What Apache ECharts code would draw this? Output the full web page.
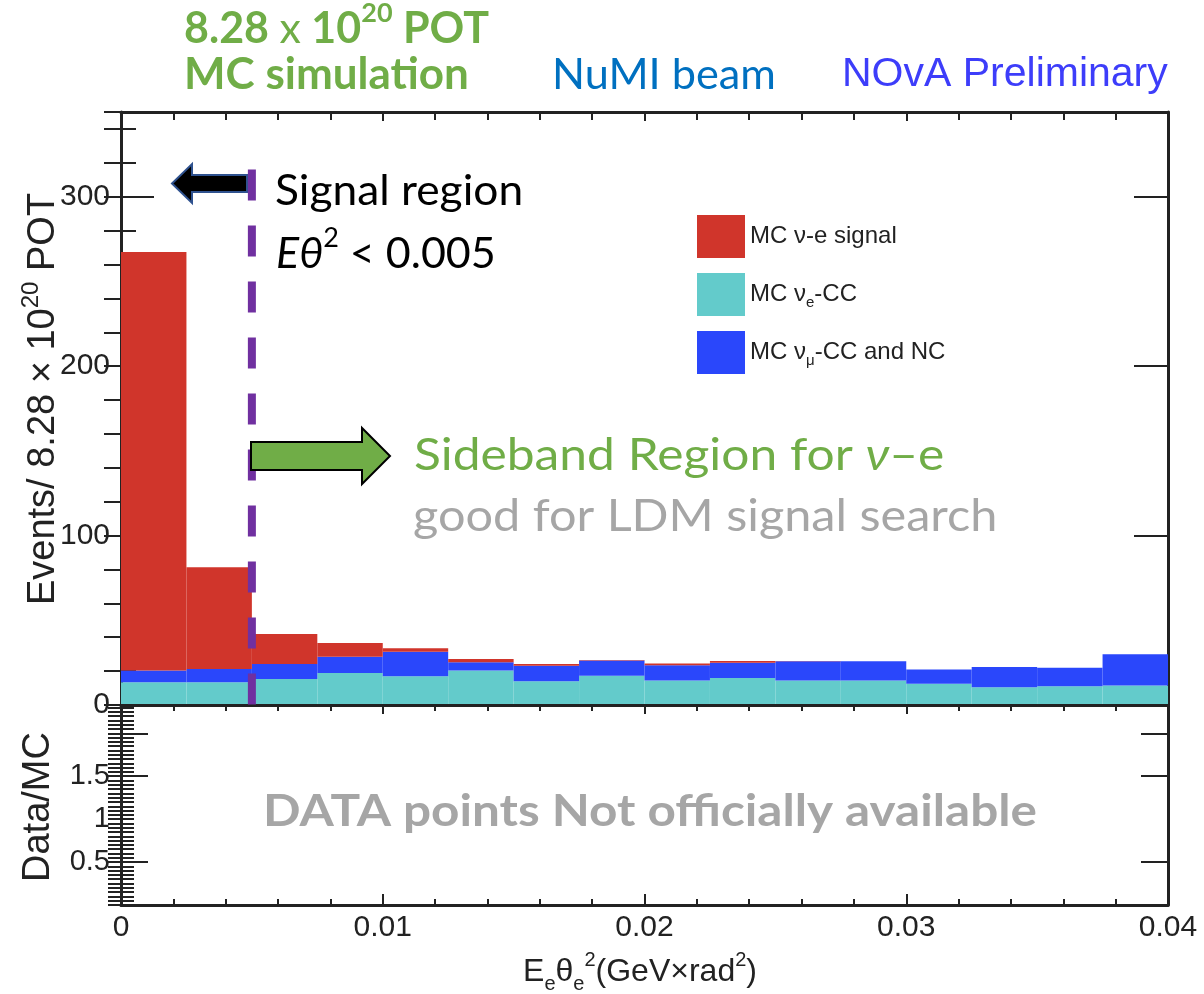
<!DOCTYPE html>
<html>
<head>
<meta charset="utf-8">
<title>NOvA E theta^2 sideband</title>
<script src="https://cdn.jsdelivr.net/npm/echarts@6/dist/echarts.min.js"></script>
<style>
  html, body { margin: 0; padding: 0; background: #fff; }
  #chart { width: 1204px; height: 994px; }
</style>
</head>
<body>
<div id="chart"></div>
<script>
// bin edges in E_e theta_e^2 (GeV x rad^2)
var binEdges = [0, 0.0025, 0.005, 0.0075, 0.01, 0.0125, 0.015, 0.0175, 0.02,
                0.0225, 0.025, 0.0275, 0.03, 0.0325, 0.035, 0.0375, 0.04];
// events per bin (bottom -> top)
var nueCC    = [13.4, 13.4, 15.4, 18.9, 16.9, 20.3, 14.0, 17.3, 14.5, 15.9, 14.5, 14.5, 12.5, 10.5, 11.1, 11.5];
var numuCCNC = [6.9, 7.9, 8.8, 9.6, 14.6, 4.9, 9.2, 8.9, 9.0, 9.1, 11.3, 11.3, 8.5, 12.0, 10.9, 18.5];
var nueSignal = [247, 60, 17.7, 8.1, 2.0, 2.0, 1.0, 0.3, 1.0, 1.0, 0.2, 0, 0, 0, 0, 0];

// signal region cut and the top of the dashed cut line
var signalCut = 0.005;
var cutLineTop = 316;

// tick labels that are printed, and the long ticks of the ratio pad
var yLabelsEvents = [0, 100, 200, 300];
var yLabelsRatio = [0.5, 1, 1.5];
var yLongTicksRatio = [0.5, 1.5, 2];

var AXIS = '#222';
var FONT = '"Liberation Sans", Arial, sans-serif';
var TEXT_FONT = 'Lato, "Open Sans", sans-serif';

// [lo, hi, base, top] rows for one layer of the stack
function stackRows(layer, below) {
  return layer.map(function (v, i) {
    var base = 0;
    below.forEach(function (b) { base += b[i]; });
    return [binEdges[i], binEdges[i + 1], base, base + v];
  });
}

function renderBin(params, api) {
  var y0 = api.value(2), y1 = api.value(3);
  if (y1 - y0 <= 0) return null;
  var p0 = api.coord([api.value(0), y1]);
  var p1 = api.coord([api.value(1), y0]);
  return {
    type: 'rect',
    shape: { x: p0[0], y: p0[1], width: p1[0] - p0[0], height: p1[1] - p0[1] },
    style: { fill: api.visual('color') }
  };
}

function histSeries(name, color, rows) {
  return {
    name: name,
    type: 'custom',
    xAxisIndex: 0,
    yAxisIndex: 0,
    renderItem: renderBin,
    clip: true,
    itemStyle: { color: color },
    encode: { x: [0, 1], y: [2, 3] },
    data: rows,
    silent: true
  };
}

function onlyLabels(list) {
  return function (v) {
    for (var i = 0; i < list.length; i++) {
      if (Math.abs(list[i] - v) < 1e-9) return String(list[i]);
    }
    return '';
  };
}

function xAxisOf(grid, pos, opt) {
  return Object.assign({
    type: 'value', gridIndex: grid, position: pos,
    min: 0, max: 0.04, interval: 0.01,
    axisLine: { show: true, onZero: false, lineStyle: { color: AXIS, width: 3 } },
    axisTick: { show: true, inside: true, length: 9, lineStyle: { color: AXIS, width: 2 } },
    minorTick: { show: true, splitNumber: 5, length: 6, lineStyle: { color: AXIS, width: 2 } },
    axisLabel: { show: false },
    splitLine: { show: false }
  }, opt || {});
}

function yAxisOf(grid, pos, max, interval, tickLen, opt) {
  return Object.assign({
    type: 'value', gridIndex: grid, position: pos,
    min: 0, max: max, interval: interval,
    axisLine: { show: true, onZero: false, lineStyle: { color: AXIS, width: 3 } },
    axisTick: { show: true, inside: true, length: tickLen, lineStyle: { color: AXIS, width: 2 } },
    axisLabel: { show: false },
    splitLine: { show: false }
  }, opt || {});
}

var chart = echarts.init(document.getElementById('chart'), null, { renderer: 'canvas' });

var legendText = {
  'MC ν-e signal': '{t|MC ν-e signal}',
  'MC νe-CC': '{t|MC ν}{s|e}{t|-CC}',
  'MC νμ-CC and NC': '{t|MC ν}{s|μ}{t|-CC and NC}'
};

function txt(text, x, y, size, color, extra, sx) {
  return {
    type: 'text', x: x, y: y, z: 100, scaleX: sx || 1,
    style: Object.assign({
      text: text, fontFamily: TEXT_FONT, fontSize: size, fill: color,
      verticalAlign: 'middle', align: 'left'
    }, extra || {})
  };
}

function richTok(size, color, weight, style, va) {
  return { fontFamily: TEXT_FONT, fontSize: size, fill: color, fontWeight: weight || 'normal',
           fontStyle: style || 'normal', verticalAlign: va || 'middle', lineHeight: va ? size : 58 };
}

var GREEN = '#70ad47';
var ratioTicks = { show: true, inside: true, length: 27, customValues: yLongTicksRatio,
                   lineStyle: { color: AXIS, width: 2 } };

var option = {
  backgroundColor: '#fff',
  animation: false,
  grid: [
    { left: 121, right: 36, top: 112, height: 593, containLabel: false, outerBoundsMode: 'none' },
    { left: 121, right: 36, top: 705, height: 200, containLabel: false, outerBoundsMode: 'none' }
  ],
  xAxis: [
    xAxisOf(0, 'bottom', { axisTick: { show: false }, minorTick: { show: false }, z: 5 }),
    xAxisOf(0, 'top', { axisTick: { show: true, inside: true, length: 9, lineStyle: { color: AXIS, width: 2 } },
                        minorTick: { show: true, splitNumber: 5, length: 8, lineStyle: { color: AXIS, width: 2 } } }),
    xAxisOf(1, 'top'),
    xAxisOf(1, 'bottom', {
      axisTick: { show: true, inside: true, length: 11, lineStyle: { color: AXIS, width: 2 } },
      axisLabel: { show: true, margin: 8, fontFamily: FONT, fontSize: 30, color: '#222',
                   formatter: function (v) { return String(v); } }
    })
  ],
  yAxis: [
    yAxisOf(0, 'left', 350, 100, 33, {
      axisLabel: { show: true, margin: 11, fontFamily: FONT, fontSize: 30, color: '#222',
                   formatter: onlyLabels(yLabelsEvents) }
    }),
    yAxisOf(0, 'left', 350, 20, 15, { axisLine: { show: false } }),
    yAxisOf(0, 'right', 350, 100, 34),
    yAxisOf(0, 'right', 350, 20, 17, { axisLine: { show: false } }),
    yAxisOf(1, 'left', 2.33, 0.5, 27, {
      axisTick: ratioTicks,
      axisLabel: { show: true, margin: 11, fontFamily: FONT, fontSize: 29, color: '#222',
                   customValues: yLabelsRatio, formatter: onlyLabels(yLabelsRatio) }
    }),
    yAxisOf(1, 'left', 2.33, 0.05, 13, { axisLine: { show: false } }),
    yAxisOf(1, 'right', 2.33, 0.5, 27, { axisTick: ratioTicks }),
    yAxisOf(1, 'right', 2.33, 0.05, 13, { axisLine: { show: false } })
  ],
  legend: {
    orient: 'vertical', left: 692, top: 210,
    icon: 'rect', itemWidth: 48, itemHeight: 43, itemGap: 15,
    selectedMode: false,
    data: ['MC ν-e signal', 'MC νe-CC', 'MC νμ-CC and NC'],
    formatter: function (name) { return legendText[name]; },
    textStyle: {
      rich: {
        t: { fontFamily: FONT, fontSize: 24, color: '#222', lineHeight: 32 },
        s: { fontFamily: FONT, fontSize: 15, color: '#222', verticalAlign: 'bottom', lineHeight: 15 }
      }
    }
  },
  series: [
    histSeries('MC νe-CC', '#63cbcb', stackRows(nueCC, [])),
    histSeries('MC νμ-CC and NC', '#2a47fb', stackRows(numuCCNC, [nueCC])),
    histSeries('MC ν-e signal', '#d0352b', stackRows(nueSignal, [nueCC, numuCCNC])),
    {
      name: 'cut',
      type: 'line',
      xAxisIndex: 0, yAxisIndex: 0,
      z: 10,
      symbol: 'none',
      silent: true,
      data: [[signalCut, cutLineTop], [signalCut, 0]],
      lineStyle: { color: '#7030a0', width: 8, type: [31, 25], cap: 'butt' }
    }
  ],
  graphic: [
    // header
    {
      type: 'text', x: 184, y: 29, z: 100,
      style: {
        text: '{b|8.28 }{r|x}{b| 10}{sup|20}{b| POT}', verticalAlign: 'middle',
        rich: {
          b: richTok(43, GREEN, 'bold'),
          r: richTok(43, GREEN, 'normal'),
          sup: richTok(27, GREEN, 'bold', 'normal', 'top')
        }
      }
    },
    txt('MC simulation', 184, 75, 44, GREEN, { fontWeight: 'bold' }),
    txt('NuMI beam', 552, 75, 42, '#0070c0', null, 1.03),
    txt('NOvA Preliminary', 842, 75, 41, '#3d3dfa', { fontFamily: FONT }),
    // signal region
    {
      type: 'polygon', z: 8,
      shape: { points: [[172, 183.5], [192, 164], [192, 175], [247, 175], [247, 192], [192, 192], [192, 203]] },
      style: { fill: '#000', stroke: '#2f528f', lineWidth: 2 }
    },
    txt('Signal region', 275, 191, 43, '#000', null, 1.03),
    {
      type: 'text', x: 276, y: 254, z: 100,
      style: {
        text: '{i|Eθ}{sup|2}{r| < 0.005}', verticalAlign: 'middle',
        rich: {
          i: richTok(43, '#000', 'normal', 'italic'),
          r: richTok(43, '#000', 'normal'),
          sup: richTok(27, '#000', 'normal', 'normal', 'top')
        }
      }
    },
    // sideband
    {
      type: 'polygon', z: 100,
      shape: { points: [[251, 442], [362, 442], [362, 428], [390, 456], [362, 484], [362, 470], [251, 470]] },
      style: { fill: GREEN, stroke: '#000', lineWidth: 2 }
    },
    {
      type: 'text', x: 414, y: 456, z: 100, scaleX: 1.13,
      style: {
        text: '{r|Sideband Region for }{i|ν}{r|–e}', verticalAlign: 'middle',
        rich: {
          r: richTok(44, GREEN, 'normal'),
          i: richTok(44, GREEN, 'normal', 'italic')
        }
      }
    },
    txt('good for LDM signal search', 413, 517, 44, '#a6a6a6', null, 1.105),
    txt('DATA points Not officially available', 650, 812, 43, '#a6a6a6', { fontWeight: 'bold', align: 'center' }, 1.15),
    // axis titles
    {
      type: 'text', x: 44, y: 399, rotation: Math.PI / 2, z: 100,
      style: {
        text: '{r|Events/ 8.28 × 10}{sup|20}{r| POT}', align: 'center', verticalAlign: 'middle',
        rich: {
          r: { fontFamily: FONT, fontSize: 38, fill: '#222', lineHeight: 50 },
          sup: { fontFamily: FONT, fontSize: 24, fill: '#222', verticalAlign: 'top', lineHeight: 24 }
        }
      }
    },
    {
      type: 'text', x: 39, y: 807, rotation: Math.PI / 2, z: 100,
      style: { text: 'Data/MC', fontFamily: FONT, fontSize: 38, fill: '#222', align: 'center', verticalAlign: 'middle' }
    },
    {
      type: 'text', x: 640, y: 972, z: 100,
      style: {
        text: '{r|E}{s|e}{r|θ}{s|e}{p|2}{r|(GeV×rad}{p|2}{r|)}', align: 'center', verticalAlign: 'middle',
        rich: {
          r: { fontFamily: FONT, fontSize: 32, fill: '#222', lineHeight: 44 },
          s: { fontFamily: FONT, fontSize: 20, fill: '#222', verticalAlign: 'bottom', lineHeight: 20 },
          p: { fontFamily: FONT, fontSize: 20, fill: '#222', verticalAlign: 'top', lineHeight: 20 }
        }
      }
    }
  ]
};

chart.setOption(option);
</script>
</body>
</html>
